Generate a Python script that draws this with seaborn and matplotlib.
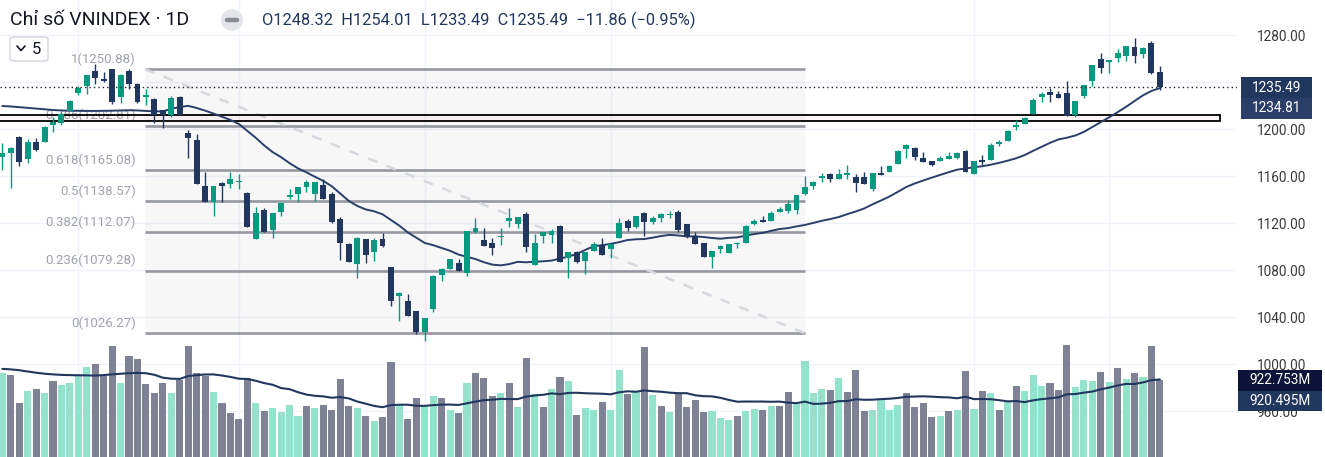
import numpy as np
import pandas as pd
import matplotlib
matplotlib.use("Agg")
import matplotlib.pyplot as plt
import seaborn as sns
from matplotlib.patches import Rectangle, FancyBboxPatch, Ellipse
from matplotlib.lines import Line2D

# ---------------- data ----------------
opens = [1176.4, 1179.8, 1193.2, 1174.5, 1188.9, 1189.2, 1203.4, 1204.8, 1215.3, 1230.9,
         1236.9, 1249.4, 1242.3, 1251.1, 1226.9, 1249.4, 1238.3, 1226.9, 1225.5, 1216.2,
         1211.9, 1226.9, 1196.9, 1190.6, 1151.5, 1138.2, 1153.7, 1153.2, 1154.6, 1145.2,
         1106.1, 1131.1, 1114.0, 1129.6, 1142.4, 1144.7, 1150.9, 1144.4, 1152.3, 1144.4,
         1123.1, 1102.1, 1084.8, 1106.1, 1095.0, 1106.4, 1082.8, 1058.2, 1053.6, 1045.1,
         1027.5, 1046.8, 1075.7, 1080.8, 1085.7, 1077.7, 1112.6, 1105.5, 1103.0, 1108.1,
         1122.0, 1119.4, 1127.6, 1084.3, 1109.2, 1109.8, 1117.4, 1089.9, 1095.0, 1087.6,
         1096.4, 1101.3, 1097.9, 1107.0, 1121.7, 1116.9, 1128.2, 1121.1, 1124.5, 1126.8,
         1129.6, 1119.1, 1109.0, 1102.7, 1090.8, 1097.6, 1094.2, 1102.1, 1103.3, 1119.1,
         1122.5, 1122.0, 1129.1, 1130.5, 1131.1, 1144.7, 1151.8, 1158.6, 1161.4, 1157.4,
         1160.9, 1158.9, 1158.9, 1148.9, 1162.8, 1163.7, 1170.2, 1182.7, 1183.5, 1175.0,
         1173.0, 1173.0, 1174.5, 1175.0, 1181.3, 1161.7, 1173.6, 1173.6, 1187.2, 1190.1,
         1202.0, 1204.3, 1212.8, 1227.5, 1231.8, 1229.8, 1230.4, 1211.9, 1228.4, 1241.1,
         1259.6, 1256.7, 1260.7, 1262.4, 1269.5, 1263.5, 1272.9, 1248.32]
highs = [1187.8, 1185.0, 1194.0, 1191.5, 1192.0, 1202.5, 1209.9, 1214.7, 1224.7, 1236.6,
         1246.0, 1255.3, 1248.2, 1251.1, 1246.5, 1250.8, 1238.9, 1233.8, 1226.1, 1216.2,
         1228.1, 1228.1, 1199.1, 1195.5, 1163.1, 1151.8, 1155.2, 1163.1, 1161.4, 1146.1,
         1133.3, 1132.5, 1128.2, 1137.3, 1148.6, 1150.9, 1156.6, 1155.2, 1157.4, 1146.7,
         1124.8, 1103.3, 1108.4, 1106.1, 1107.0, 1111.2, 1082.8, 1061.6, 1059.6, 1045.1,
         1038.9, 1075.7, 1081.4, 1089.4, 1089.1, 1113.2, 1124.5, 1116.0, 1107.5, 1115.5,
         1133.1, 1125.1, 1129.6, 1110.6, 1112.6, 1114.9, 1118.3, 1095.0, 1096.2, 1095.0,
         1104.1, 1107.0, 1101.8, 1124.0, 1123.4, 1125.7, 1129.6, 1126.2, 1128.8, 1130.5,
         1131.0, 1119.1, 1112.0, 1102.7, 1096.2, 1101.3, 1101.8, 1104.1, 1118.3, 1123.1,
         1126.2, 1130.2, 1133.9, 1139.6, 1143.8, 1160.3, 1156.0, 1162.8, 1162.8, 1165.7,
         1169.4, 1161.7, 1163.7, 1162.3, 1168.5, 1169.4, 1182.1, 1187.2, 1184.4, 1180.1,
         1173.0, 1177.0, 1180.1, 1180.1, 1182.1, 1172.8, 1177.9, 1187.8, 1190.6, 1199.1,
         1207.7, 1210.5, 1226.7, 1231.8, 1234.6, 1232.3, 1241.1, 1223.8, 1237.4, 1254.5,
         1264.4, 1258.7, 1268.1, 1270.6, 1277.2, 1269.5, 1274.9, 1254.01]
lows = [1165.1, 1149.5, 1168.5, 1171.3, 1181.6, 1189.0, 1197.7, 1203.4, 1215.0, 1228.9,
        1229.8, 1238.0, 1240.3, 1221.3, 1221.8, 1233.8, 1222.4, 1220.4, 1205.4, 1200.6,
        1209.9, 1211.9, 1175.0, 1152.9, 1137.6, 1126.2, 1137.6, 1150.1, 1148.9, 1116.3,
        1106.1, 1112.0, 1107.5, 1126.2, 1140.1, 1138.2, 1146.1, 1138.7, 1140.4, 1120.3,
        1088.5, 1087.1, 1073.5, 1086.2, 1087.9, 1099.9, 1049.6, 1036.9, 1041.1, 1025.3,
        1019.8, 1044.5, 1070.6, 1080.8, 1079.4, 1075.2, 1111.2, 1100.7, 1092.8, 1101.3,
        1116.3, 1115.5, 1095.6, 1084.3, 1103.3, 1103.3, 1087.1, 1073.5, 1085.7, 1076.3,
        1096.4, 1092.8, 1089.9, 1107.0, 1113.2, 1116.0, 1109.2, 1119.1, 1120.6, 1124.0,
        1112.6, 1107.5, 1101.8, 1090.8, 1082.0, 1094.2, 1094.2, 1099.0, 1103.3, 1118.3,
        1121.1, 1122.0, 1129.0, 1128.5, 1127.7, 1143.8, 1148.9, 1155.2, 1155.2, 1157.4,
        1157.4, 1146.7, 1153.2, 1147.5, 1160.9, 1163.1, 1170.2, 1175.6, 1173.6, 1172.2,
        1168.8, 1173.0, 1174.5, 1174.2, 1163.1, 1161.7, 1169.4, 1173.6, 1185.5, 1190.1,
        1199.1, 1204.3, 1212.8, 1223.3, 1223.3, 1226.7, 1211.3, 1210.5, 1226.7, 1236.6,
        1247.9, 1247.9, 1257.3, 1258.2, 1256.5, 1260.7, 1246.8, 1233.49]
closes = [1179.8, 1184.1, 1172.2, 1189.2, 1182.1, 1201.7, 1205.7, 1212.8, 1223.8, 1234.6,
          1246.0, 1243.1, 1241.1, 1223.3, 1246.0, 1238.3, 1223.3, 1228.9, 1211.9, 1211.9,
          1226.1, 1211.9, 1192.6, 1152.9, 1137.6, 1151.8, 1151.8, 1157.2, 1155.7, 1116.9,
          1128.2, 1112.6, 1128.2, 1136.7, 1144.1, 1150.4, 1154.6, 1154.6, 1140.4, 1121.1,
          1102.7, 1087.1, 1107.5, 1092.8, 1105.5, 1100.7, 1053.9, 1060.7, 1041.1, 1027.0,
          1038.9, 1074.9, 1080.6, 1089.4, 1079.4, 1113.2, 1115.7, 1100.7, 1099.0, 1109.0,
          1124.3, 1125.1, 1099.9, 1103.0, 1112.0, 1113.2, 1087.1, 1095.0, 1087.1, 1095.0,
          1101.8, 1092.8, 1101.8, 1119.7, 1115.5, 1125.7, 1120.6, 1124.0, 1127.4, 1127.6,
          1114.0, 1109.0, 1101.8, 1090.8, 1096.2, 1100.4, 1101.8, 1103.3, 1117.4, 1121.7,
          1121.1, 1128.2, 1131.6, 1136.0, 1143.8, 1150.9, 1155.2, 1160.0, 1157.4, 1161.4,
          1162.8, 1154.3, 1153.2, 1162.3, 1160.9, 1168.5, 1181.6, 1186.4, 1176.5, 1172.2,
          1169.4, 1175.0, 1177.0, 1179.3, 1163.7, 1172.8, 1172.2, 1186.4, 1189.2, 1198.3,
          1203.4, 1209.1, 1224.7, 1229.8, 1228.9, 1226.7, 1211.3, 1223.8, 1237.4, 1254.5,
          1252.2, 1258.7, 1264.4, 1270.6, 1262.4, 1268.7, 1247.35, 1235.49]
# volume, millions
volumes = [1012, 984, 648, 792, 816, 768, 912, 864, 888, 1000,
           1080, 1120, 976, 1336, 888, 1216, 1176, 880, 768, 888,
           768, 928, 1336, 1008, 976, 784, 648, 528, 456, 944,
           648, 552, 584, 544, 624, 488, 608, 588, 624, 564,
           936, 608, 588, 492, 432, 480, 1144, 624, 456, 704,
           616, 728, 704, 560, 528, 888, 1008, 944, 728, 768,
           888, 600, 1184, 760, 600, 816, 960, 912, 504, 584,
           564, 664, 564, 1044, 760, 792, 1320, 744, 612, 544,
           768, 600, 684, 544, 552, 468, 444, 492, 552, 576,
           564, 612, 612, 780, 652, 1152, 768, 816, 804, 948,
           780, 1044, 552, 564, 696, 564, 624, 768, 600, 648,
           480, 492, 552, 564, 1032, 576, 792, 768, 564, 672,
           852, 792, 984, 852, 888, 804, 1344, 840, 924, 912,
           1020, 900, 1068, 936, 1008, 960, 1332, 922.753]
# volume bar colour as seen: 1 = teal, 0 = grey
vol_up = [1, 0, 0, 1, 0, 1, 0, 1, 1, 1, 1, 0, 0, 0, 1, 0, 0, 0, 0, 0,
          1, 0, 0, 0, 0, 1, 0, 0, 0, 0, 1, 0, 1, 1, 1, 1, 0, 1, 0, 0,
          0, 0, 1, 0, 1, 0, 0, 1, 0, 0, 1, 1, 0, 1, 0, 1, 0, 0, 0, 1,
          0, 1, 0, 1, 0, 1, 0, 1, 0, 1, 1, 0, 1, 1, 0, 1, 0, 1, 0, 1,
          0, 0, 0, 0, 1, 1, 1, 0, 1, 1, 0, 1, 0, 0, 1, 1, 1, 1, 0, 1,
          0, 0, 0, 1, 1, 1, 1, 0, 0, 0, 0, 1, 0, 1, 0, 1, 0, 1, 0, 1,
          0, 1, 1, 1, 0, 0, 0, 1, 1, 1, 0, 1, 0, 1, 0, 1, 0, 0]
# moving-average values before the 20-bar window is full
price_ma_head = [1219.6, 1219.2, 1218.6, 1218.0, 1217.4, 1216.8, 1216.2, 1215.8, 1215.6, 1215.5,
                 1215.4, 1215.4, 1215.5, 1215.6, 1215.8, 1216.0, 1215.8, 1215.4, 1215.1]
vol_ma_head = [1056, 1050, 1040, 1025, 1010, 998, 990, 984, 981, 980,
               978, 976, 982, 990, 998, 1004, 1008, 1004, 985]
ma_period = 20

fib_ratios = ["1", "0.786", "0.618", "0.5", "0.382", "0.236", "0"]
fib_levels = [1250.88, 1202.81, 1165.08, 1138.57, 1112.07, 1079.28, 1026.27]
fib_anchor_idx = [16.9, 95.0]
zone_low, zone_high = 1206.6, 1211.7
zone_end_idx = 144.1
grid_idx = [9, 28, 50, 72, 115, 131]
grid_prices = [960, 1000, 1040, 1080, 1120, 1160, 1200, 1240, 1280]
# 1240.00 sits behind the price badges in the reference
price_ticks = [960, 1000, 1040, 1080, 1120, 1160, 1200, 1280]

last = dict(O=1248.32, H=1254.01, L=1233.49, C=1235.49, chg=-11.86, pct=-0.95)
ma_last = 1234.81
vol_last, vol_ma_last = 922.753, 920.495

# ---------------- derived ----------------
n = len(closes)
idx = np.arange(n)
o, h, l, c = map(np.asarray, (opens, highs, lows, closes))
ma = pd.Series(closes).rolling(ma_period).mean().to_numpy()
ma[:ma_period - 1] = price_ma_head
vma = pd.Series(volumes, dtype=float).rolling(ma_period).mean().to_numpy()
vma[:ma_period - 1] = vol_ma_head

UP, DOWN = "#089981", "#22375e"
VUP, VDOWN = "#92e2cc", "#7f8195"

sns.set_theme(style="white")
plt.rcParams["font.family"] = ["Roboto", "DejaVu Sans"]

W, H = 1325, 457
fig = plt.figure(figsize=(W / 100, H / 100), dpi=100)
fig.patch.set_facecolor("white")
pane = [0, 0, 1237 / W, 1]
xlim = (-0.272, 146.13)
ylim = (920.9, 1309.8)
vmax = vol_last * H / 77.0

axg = fig.add_axes(pane, label="grid")
axv = fig.add_axes(pane, label="vol")
ax = fig.add_axes(pane, label="price")
for a, z in ((axg, 0), (axv, 1), (ax, 2)):
    a.set_zorder(z)
    a.set_xlim(*xlim)
    for s in a.spines.values():
        s.set_visible(False)
axv.patch.set_visible(False)
ax.patch.set_visible(False)

# grid
axg.set_ylim(*ylim)
for p in grid_prices:
    axg.axhline(p, color="#f0f3fa", lw=1)
for g in grid_idx:
    axg.axvline(g, color="#f0f3fa", lw=1)
axg.set_xticks([]); axg.set_yticks([])

# volume
dfv = pd.DataFrame({"idx": idx, "vol": volumes,
                    "dir": np.where(np.asarray(vol_up) == 1, "up", "down")})
sns.barplot(data=dfv, x="idx", y="vol", hue="dir", palette={"up": VUP, "down": VDOWN},
            native_scale=True, dodge=False, width=0.84, saturation=1, legend=False,
            errorbar=None, linewidth=0, ax=axv)
sns.lineplot(x=idx, y=vma, color="#22375e", lw=1.5, ax=axv)
axv.set_xlim(*xlim)
axv.set_ylim(0, vmax)
axv.set_xticks([]); axv.set_yticks([])
axv.set_xlabel(""); axv.set_ylabel("")

# price pane
ax.set_ylim(*ylim)
fx0, fx1 = fib_anchor_idx
ax.fill_between([fx0, fx1], fib_levels[-1], fib_levels[0], color="#787b86", alpha=0.055, lw=0, zorder=0.5)
ax.hlines(fib_levels, fx0, fx1, color="#9598a1", lw=1.9, zorder=1)
for r, lv in zip(fib_ratios, fib_levels):
    ax.annotate(f"{r}({lv:.2f})", xy=(fx0, lv), xytext=(-6.5, 7.3), textcoords="offset points",
                ha="right", va="center", fontsize=9.5, color="#a0a3ab", zorder=1.5)
ax.plot([fx0, fx1], [fib_levels[0], fib_levels[-1]], color="#d6d8de", lw=1.8,
        dashes=(4, 4), zorder=1.2)

ax.add_patch(Rectangle((-5, zone_low), zone_end_idx + 5, zone_high - zone_low,
                       facecolor=(0.95, 0.3, 0.45, 0.05), edgecolor="black", lw=1.3, zorder=2.5))

sns.lineplot(x=idx, y=ma, color="#2b3e6a", lw=1.4, ax=ax, zorder=3)

up = c >= o
cols = np.where(up, UP, DOWN)
ax.vlines(idx, l, h, colors=cols, lw=1.0, zorder=4)
body_lo = np.minimum(o, c)
body_h = np.maximum(np.abs(c - o), 0.9)
ax.bar(idx, body_h, bottom=body_lo, width=0.7, color=cols, lw=0, zorder=4.5)

ax.axhline(last["C"], color="#1e222d", lw=1.0, ls=(0, (1, 2.2)), zorder=6)

ax.set_xlim(*xlim)
ax.set_xticks([])
ax.set_xlabel(""); ax.set_ylabel("")
ax.yaxis.tick_right()
ax.set_yticks(price_ticks)
ax.set_yticklabels([f"{p:.2f}" for p in price_ticks])
ax.tick_params(axis="y", length=0, pad=14, labelsize=9.8, labelcolor="#3a3a3a")


def px(x, y):
    return x / W, 1 - y / H


def badge(x0, x1, y0, y1, color, text):
    fig.add_artist(Rectangle(px(x0, y1), (x1 - x0) / W, (y1 - y0) / H, transform=fig.transFigure,
                             facecolor=color, edgecolor="none", zorder=20))
    fig.text(*px((x0 + x1) / 2, (y0 + y1) / 2), text, ha="center", va="center",
             color="white", fontsize=9.8, zorder=21)


badge(1241, 1312, 77, 98, DOWN, f"{last['C']:.2f}")
badge(1241, 1312, 98, 119, "#2b3e6a", f"{ma_last:.2f}")
badge(1238, 1322, 370, 391, "#0c1338", f"{vol_last:.3f}M")
badge(1238, 1322, 391, 411, "#22375e", f"{vol_ma_last:.3f}M")

# header
fig.text(*px(10, 20), "Chỉ số VNINDEX · 1D", fontsize=14.0, va="center", ha="left", color="#131722")
fig.add_artist(Ellipse(px(232, 20), 22 / W, 22 / H, transform=fig.transFigure, facecolor="#e3e5eb",
                       edgecolor="none", zorder=5))
fig.add_artist(Line2D([227 / W, 237 / W], [1 - 20 / H] * 2, transform=fig.transFigure,
                      color="#8a8d96", lw=3.2, solid_capstyle="round", zorder=6))
hdr = (f"O{last['O']:.2f}  H{last['H']:.2f}  L{last['L']:.2f}  C{last['C']:.2f}  "
       f"\u2212{abs(last['chg']):.2f} (\u2212{abs(last['pct']):.2f}%)")
fig.text(*px(262, 20), hdr, fontsize=11.8, va="center", ha="left", color="#22375e")

fig.add_artist(FancyBboxPatch(px(10, 61), 38 / W, 24 / H, transform=fig.transFigure,
                              boxstyle="round,pad=0,rounding_size=0.004", facecolor="white",
                              edgecolor="#d1d4dc", lw=1, zorder=5))
fig.add_artist(Line2D([17 / W, 21 / W, 25 / W], [1 - 46 / H, 1 - 50.5 / H, 1 - 46 / H],
                      transform=fig.transFigure, color="#131722", lw=1.2, zorder=6))
fig.text(*px(36, 49), "5", fontsize=12, va="center", ha="center", color="#131722", zorder=6)

fig.savefig("out.png", dpi=100)
